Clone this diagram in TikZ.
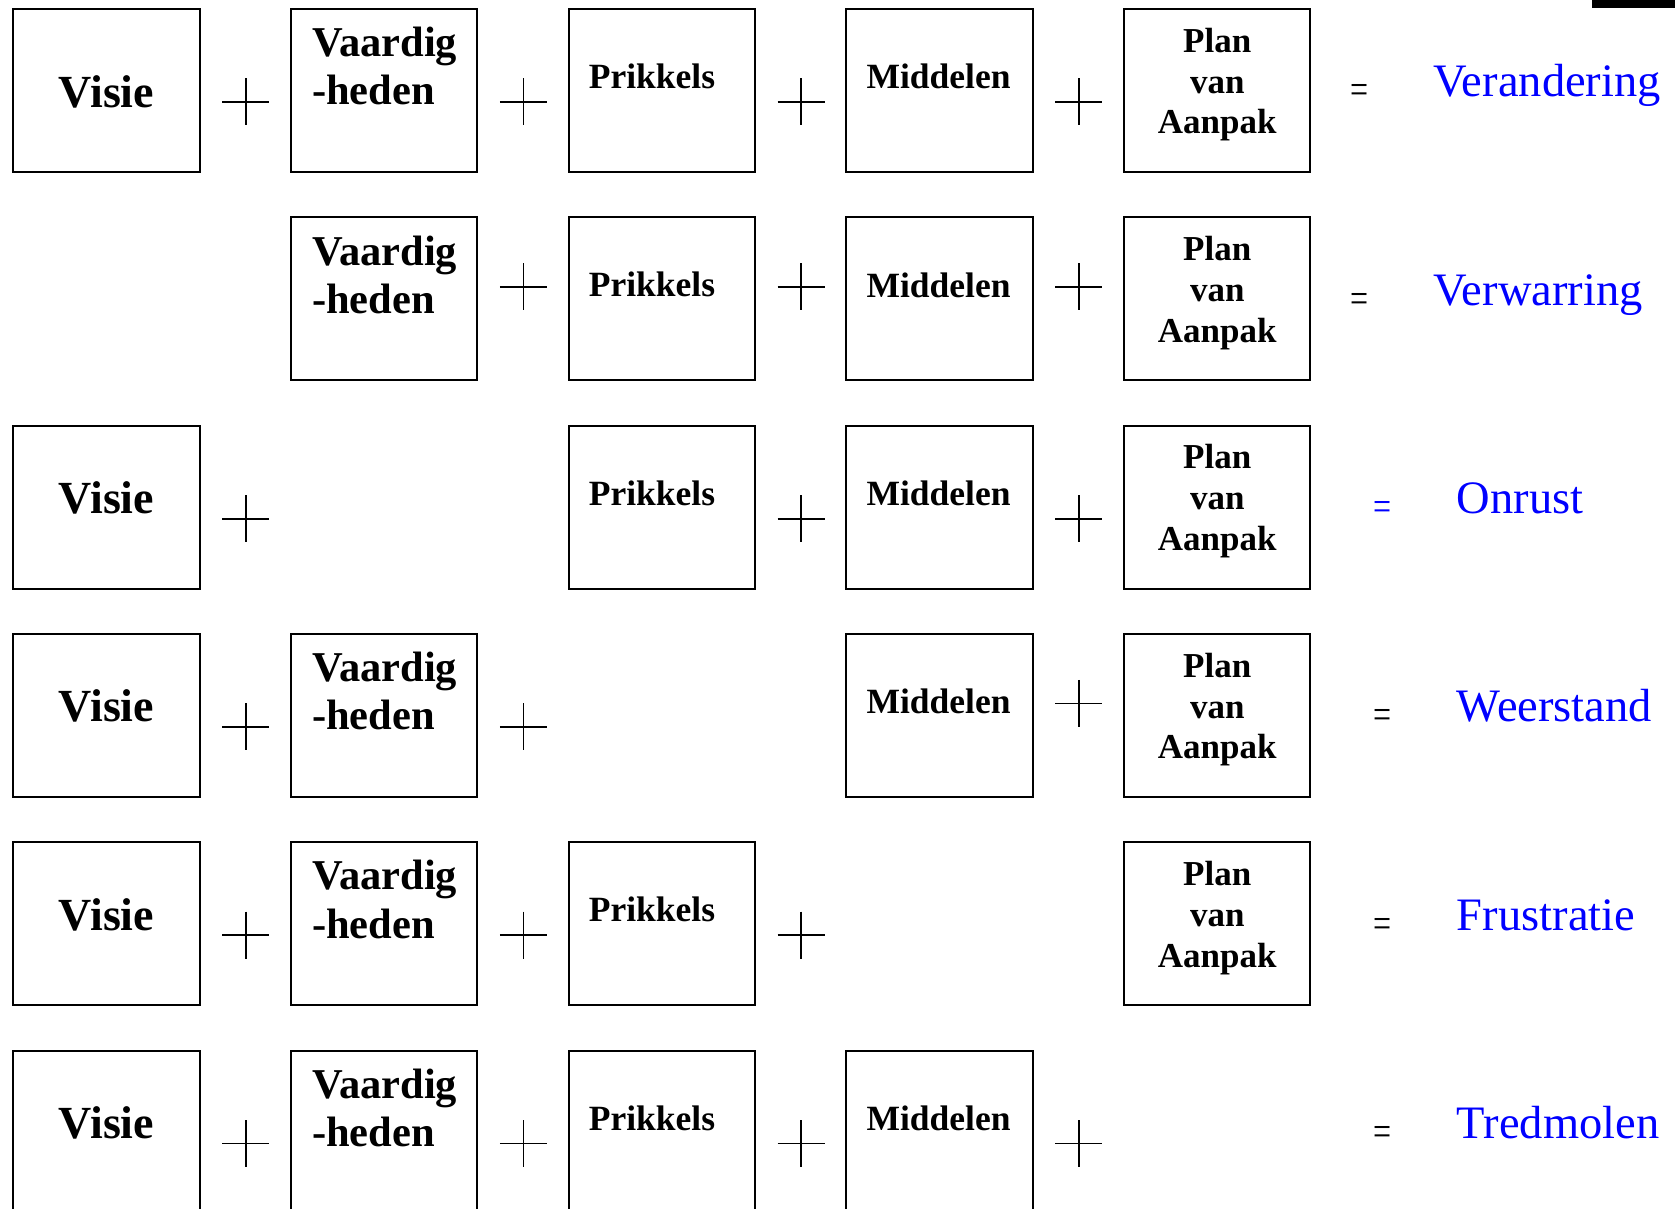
\documentclass[tikz,border=0pt]{standalone}
\usepackage{fontspec}
\setmainfont{Liberation Serif}
\usetikzlibrary{calc}
\definecolor{resultblue}{RGB}{0,0,255}

\tikzset{
  stepbox/.style={draw, line width=2pt, minimum width=186.3pt, minimum height=163pt,
    inner sep=0pt, outer sep=0pt, anchor=north west},
  visietext/.style={font=\bfseries\fontsize{46}{55}\selectfont, inner sep=0pt, anchor=base},
  % multi-line nodes: the base anchor sits on the last line
  skilltext/.style={font=\bfseries\fontsize{42.5}{48.3}\selectfont, inner sep=0pt,
    align=left, anchor=base west},
  termtext/.style={font=\bfseries\fontsize{35.5}{41}\selectfont, inner sep=0pt, anchor=base west},
  plantext/.style={font=\bfseries\fontsize{35}{40.9}\selectfont, inner sep=0pt,
    align=center, anchor=base},
  plusline/.style={line width=1.8pt},
  eqsign/.style={font=\fontsize{32}{38}\selectfont, inner sep=0pt, anchor=base},
  result/.style={font=\fontsize{46.5}{55}\selectfont, text=resultblue, inner sep=0pt,
    anchor=base west},
}

% a thin plus sign centred on a named coordinate
\newcommand\plusmark[3]{%
  \coordinate (#1) at (#2,#3);
  \draw[plusline] ($(#1)+(-23.5,0)$) -- ($(#1)+(23.5,0)$)
                  ($(#1)+(0,-23.5)$) -- ($(#1)+(0,23.5)$);}
\newcommand\eqmark{\scalebox{1}[1.3]{=}}

\begin{document}
\begin{tikzpicture}[x=1pt,y=-1pt]
\clip (0,0) rectangle (1675,1209);
\fill (1592,0) rectangle (1675,8.3);

% ---------- row 1: everything present ----------
\node[stepbox] (v1) at (13.3,9) {};
\node[visietext] (v1t) at ($(v1.north)+(0,98.3)$) {Visie};
\node[stepbox] (s1) at (291.0,9) {};
\node[skilltext] (s1t) at ($(s1.north west)+(21,96)$) {Vaardig\\-heden};
\node[stepbox] (p1) at (568.7,9) {};
\node[termtext] (p1t) at ($(p1.north west)+(20,79.5)$) {Prikkels};
\node[stepbox] (m1) at (846.4,9) {};
\node[termtext] (m1t) at ($(m1.north west)+(20,80)$) {Middelen};
\node[stepbox] (a1) at (1124.1,9) {};
\node[plantext] (a1t) at ($(a1.north)+(0,125)$) {Plan\\van\\Aanpak};
\plusmark{x11}{245.7}{102}
\plusmark{x12}{523.4}{102}
\plusmark{x13}{801.1}{102}
\plusmark{x14}{1078.8}{102}
\node[eqsign] (e1) at (1359.5,104) {\eqmark};
\node[result] (r1) at (1433.3,96.7) {Verandering};

% ---------- row 2: no vision ----------
\node[stepbox] (s2) at (291.0,217.3) {};
\node[skilltext] (s2t) at ($(s2.north west)+(21,96)$) {Vaardig\\-heden};
\node[stepbox] (p2) at (568.7,217.3) {};
\node[termtext] (p2t) at ($(p2.north west)+(20,79.5)$) {Prikkels};
\node[stepbox] (m2) at (846.4,217.3) {};
\node[termtext] (m2t) at ($(m2.north west)+(20,80)$) {Middelen};
\node[stepbox] (a2) at (1124.1,217.3) {};
\node[plantext] (a2t) at ($(a2.north)+(0,125)$) {Plan\\van\\Aanpak};
\plusmark{x22}{523.4}{286.8}
\plusmark{x23}{801.1}{286.8}
\plusmark{x24}{1078.8}{286.8}
\node[eqsign] (e2) at (1359.5,312.3) {\eqmark};
\node[result] (r2) at (1433.3,305) {Verwarring};

% ---------- row 3: no skills ----------
\node[stepbox] (v3) at (13.3,425.6) {};
\node[visietext] (v3t) at ($(v3.north)+(0,88)$) {Visie};
\node[stepbox] (p3) at (568.7,425.6) {};
\node[termtext] (p3t) at ($(p3.north west)+(20,79.5)$) {Prikkels};
\node[stepbox] (m3) at (846.4,425.6) {};
\node[termtext] (m3t) at ($(m3.north west)+(20,80)$) {Middelen};
\node[stepbox] (a3) at (1124.1,425.6) {};
\node[plantext] (a3t) at ($(a3.north)+(0,125)$) {Plan\\van\\Aanpak};
\plusmark{x31}{245.7}{518.6}
\plusmark{x33}{801.1}{518.6}
\plusmark{x34}{1078.8}{518.6}
\node[eqsign, text=resultblue] (e3) at (1383,520.6) {\eqmark};
\node[result] (r3) at (1456.7,513.6) {Onrust};

% ---------- row 4: no incentives ----------
\node[stepbox] (v4) at (13.3,633.9) {};
\node[visietext] (v4t) at ($(v4.north)+(0,88)$) {Visie};
\node[stepbox] (s4) at (291.0,633.9) {};
\node[skilltext] (s4t) at ($(s4.north west)+(21,96)$) {Vaardig\\-heden};
\node[stepbox] (m4) at (846.4,633.9) {};
\node[termtext] (m4t) at ($(m4.north west)+(20,80)$) {Middelen};
\node[stepbox] (a4) at (1124.1,633.9) {};
\node[plantext] (a4t) at ($(a4.north)+(0,125)$) {Plan\\van\\Aanpak};
\plusmark{x41}{245.7}{726.9}
\plusmark{x42}{523.4}{726.9}
\plusmark{x44}{1078.8}{703.4}
\node[eqsign] (e4) at (1383,728.9) {\eqmark};
\node[result] (r4) at (1456.7,721.9) {Weerstand};

% ---------- row 5: no resources ----------
\node[stepbox] (v5) at (13.3,842.2) {};
\node[visietext] (v5t) at ($(v5.north)+(0,88)$) {Visie};
\node[stepbox] (s5) at (291.0,842.2) {};
\node[skilltext] (s5t) at ($(s5.north west)+(21,96)$) {Vaardig\\-heden};
\node[stepbox] (p5) at (568.7,842.2) {};
\node[termtext] (p5t) at ($(p5.north west)+(20,79.5)$) {Prikkels};
\node[stepbox] (a5) at (1124.1,842.2) {};
\node[plantext] (a5t) at ($(a5.north)+(0,125)$) {Plan\\van\\Aanpak};
\plusmark{x51}{245.7}{935.2}
\plusmark{x52}{523.4}{935.2}
\plusmark{x53}{801.1}{935.2}
\node[eqsign] (e5) at (1383,937.2) {\eqmark};
\node[result] (r5) at (1456.7,930.2) {Frustratie};

% ---------- row 6: no plan ----------
\node[stepbox] (v6) at (13.3,1050.5) {};
\node[visietext] (v6t) at ($(v6.north)+(0,88)$) {Visie};
\node[stepbox] (s6) at (291.0,1050.5) {};
\node[skilltext] (s6t) at ($(s6.north west)+(21,96)$) {Vaardig\\-heden};
\node[stepbox] (p6) at (568.7,1050.5) {};
\node[termtext] (p6t) at ($(p6.north west)+(20,79.5)$) {Prikkels};
\node[stepbox] (m6) at (846.4,1050.5) {};
\node[termtext] (m6t) at ($(m6.north west)+(20,80)$) {Middelen};
\plusmark{x61}{245.7}{1143.5}
\plusmark{x62}{523.4}{1143.5}
\plusmark{x63}{801.1}{1143.5}
\plusmark{x64}{1078.8}{1143.5}
\node[eqsign] (e6) at (1383,1145.5) {\eqmark};
\node[result] (r6) at (1456.7,1138.5) {Tredmolen};
\end{tikzpicture}
\end{document}
